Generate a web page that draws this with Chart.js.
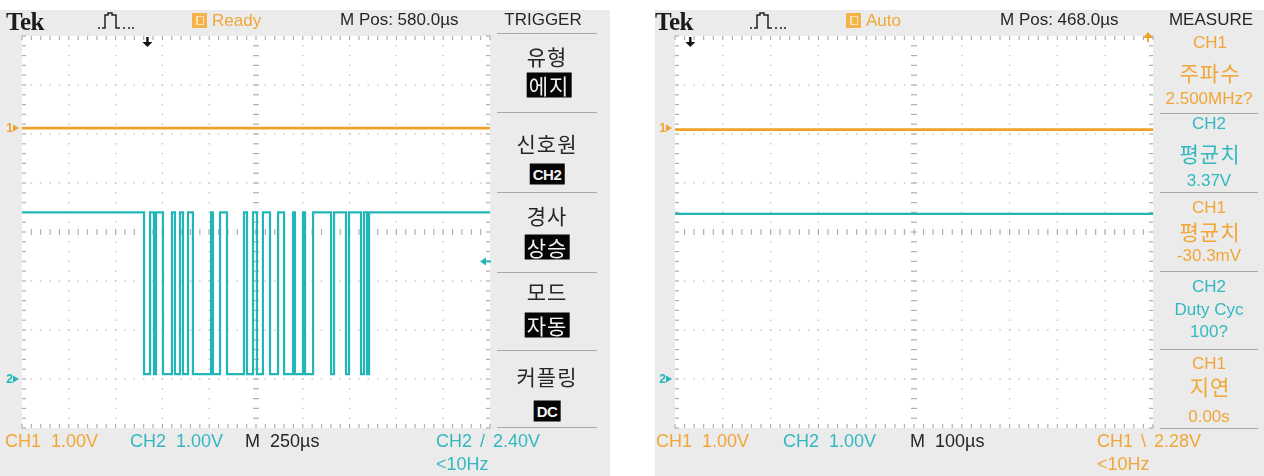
<!DOCTYPE html>
<html lang="ko">
<head>
<meta charset="utf-8">
<title>Tek 오실로스코프 캡처</title>
<script src="https://cdn.jsdelivr.net/npm/chart.js@4.4.1/dist/chart.umd.min.js"></script>
<style>
  html, body { margin: 0; padding: 0; }
  body { width: 1264px; height: 476px; position: relative; overflow: hidden; background: #fff;
         font-family: "Liberation Sans", Arial, sans-serif; }
  .panel { position: absolute; top: 10px; height: 466px; background: #ebebeb; }
  canvas { position: absolute; top: 10px; }
  .t { position: absolute; white-space: nowrap; line-height: 1; transform: translateY(-50%); font-size: 17px; }
  .c { transform: translate(-50%, -50%); }
  .kr { font-family: "Noto Sans CJK KR", sans-serif; font-size: 21px; letter-spacing: 1px; }
  .o { color: #f1a636; }
  .cy { color: #33b8c0; }
  .k { color: #262626; }
  .ft { font-size: 18px; word-spacing: 5px; }
  .tek { font-family: "Liberation Serif", serif; font-weight: bold; font-size: 25px; color: #1b1b1b; letter-spacing: -0.5px; }
  .box { background: #050505; color: #f2f2f2; padding: 2px 2px; }
  .boxs { background: #050505; color: #f2f2f2; padding: 3px 3px; font-size: 15px; font-weight: bold; letter-spacing: -0.5px; }
  .sep { position: absolute; height: 1px; background: #a9a9a9; }
  .acq { position: absolute; width: 15px; height: 15px; background: #f3b24a; }
  .acq::after { content: ""; position: absolute; left: 4px; top: 3px; width: 5px; height: 7px;
                border: 1px solid #fde2ae; border-left-width: 2px; }
</style>
</head>
<body>

<!-- instrument bezels -->
<div class="panel" style="left:0;width:610px"></div>
<div class="panel" style="left:655px;width:609px"></div>

<canvas id="scopeL" width="610" height="466" style="left:0"></canvas>
<canvas id="scopeR" width="609" height="466" style="left:655px"></canvas>

<!-- ===== left scope: status line ===== -->
<div class="t tek" style="left:6px;top:21px">Tek</div>
<svg style="position:absolute;left:97px;top:12px" width="38" height="18" viewBox="0 0 38 18">
  <path d="M1 16 H3 M5 16 H8 V3 H11 V1 H15 V3 H19 V16 H23 M26 16 H28 M31 16 H33 M35 16 H37" fill="none" stroke="#222" stroke-width="1.5"/>
</svg>
<div class="acq" style="left:192px;top:13px"></div>
<div class="t o" style="left:212px;top:20px">Ready</div>
<div class="t k" style="left:340px;top:19px">M Pos: 580.0µs</div>
<div class="t k c" style="left:543px;top:19px">TRIGGER</div>

<!-- left scope: trigger menu -->
<div class="sep" style="left:497px;top:33px;width:100px"></div>
<div class="t k c kr" style="left:547px;top:56px">유형</div>
<div class="t c kr box" style="left:549px;top:85px">에지</div>
<div class="sep" style="left:497px;top:112px;width:100px"></div>
<div class="t k c kr" style="left:547px;top:143px">신호원</div>
<div class="t c boxs" style="left:547px;top:174px">CH2</div>
<div class="sep" style="left:497px;top:192px;width:100px"></div>
<div class="t k c kr" style="left:547px;top:215px">경사</div>
<div class="t c kr box" style="left:547px;top:247px">상승</div>
<div class="sep" style="left:497px;top:272px;width:100px"></div>
<div class="t k c kr" style="left:547px;top:291px">모드</div>
<div class="t c kr box" style="left:547px;top:325px">자동</div>
<div class="sep" style="left:497px;top:350px;width:100px"></div>
<div class="t k c kr" style="left:547px;top:376px">커플링</div>
<div class="t c boxs" style="left:547px;top:411px">DC</div>
<div class="sep" style="left:497px;top:427px;width:100px"></div>

<!-- left scope: channel / timebase readout -->
<div class="t o ft" style="left:5px;top:441px">CH1 1.00V</div>
<div class="t cy ft" style="left:130px;top:441px">CH2 1.00V</div>
<div class="t k ft" style="left:245px;top:441px">M 250µs</div>
<div class="t cy ft" style="left:436px;top:441px;word-spacing:3px">CH2 / 2.40V</div>
<div class="t cy ft" style="left:436px;top:464px">&lt;10Hz</div>

<!-- ===== right scope: status line ===== -->
<div class="t tek" style="left:655px;top:21px">Tek</div>
<svg style="position:absolute;left:749px;top:12px" width="38" height="18" viewBox="0 0 38 18">
  <path d="M1 16 H3 M5 16 H8 V3 H11 V1 H15 V3 H19 V16 H23 M26 16 H28 M31 16 H33 M35 16 H37" fill="none" stroke="#222" stroke-width="1.5"/>
</svg>
<div class="acq" style="left:846px;top:13px"></div>
<div class="t o" style="left:866px;top:20px">Auto</div>
<div class="t k" style="left:1000px;top:19px">M Pos: 468.0µs</div>
<div class="t k c" style="left:1211px;top:19px">MEASURE</div>

<!-- right scope: measurement menu -->
<div class="t o c" style="left:1210px;top:42px">CH1</div>
<div class="t o c kr" style="left:1210px;top:72px">주파수</div>
<div class="t o c" style="left:1209px;top:98px">2.500MHz?</div>
<div class="sep" style="left:1160px;top:113px;width:98px"></div>
<div class="t cy c" style="left:1209px;top:123px">CH2</div>
<div class="t cy c kr" style="left:1210px;top:153px">평균치</div>
<div class="t cy c" style="left:1209px;top:180px">3.37V</div>
<div class="sep" style="left:1160px;top:192px;width:98px"></div>
<div class="t o c" style="left:1209px;top:207px">CH1</div>
<div class="t o c kr" style="left:1210px;top:231px">평균치</div>
<div class="t o c" style="left:1209px;top:255px">-30.3mV</div>
<div class="sep" style="left:1160px;top:271px;width:98px"></div>
<div class="t cy c" style="left:1209px;top:286px">CH2</div>
<div class="t cy c" style="left:1209px;top:309px">Duty Cyc</div>
<div class="t cy c" style="left:1209px;top:331px">100?</div>
<div class="sep" style="left:1160px;top:349px;width:98px"></div>
<div class="t o c" style="left:1209px;top:363px">CH1</div>
<div class="t o c kr" style="left:1210px;top:386px">지연</div>
<div class="t o c" style="left:1209px;top:416px">0.00s</div>
<div class="sep" style="left:1160px;top:428px;width:98px"></div>

<!-- right scope: channel / timebase readout -->
<div class="t o ft" style="left:656px;top:441px">CH1 1.00V</div>
<div class="t cy ft" style="left:783px;top:441px">CH2 1.00V</div>
<div class="t k ft" style="left:910px;top:441px">M 100µs</div>
<div class="t o ft" style="left:1097px;top:441px;word-spacing:3px">CH1 \ 2.28V</div>
<div class="t o ft" style="left:1097px;top:464px">&lt;10Hz</div>

<script>
// ---------- left capture: CH2 data burst, 250 µs/div ----------
const leftTime = [0, 2500];          // µs across the ten divisions
const leftCh1 = [0.0, 0.0];          // V, CH1 idle level
const leftCh2High = 3.4;             // V
const leftCh2Low = 0.1;              // V
// CH2 burst: alternating falling / rising edge times (µs)
const leftCh2Edges = [652, 684, 705, 716, 753, 801, 817, 844, 860, 887, 913, 1010,
                      1020, 1058, 1095, 1186, 1202, 1234, 1255, 1287, 1325, 1368, 1400, 1448,
                      1458, 1501, 1512, 1555, 1651, 1667, 1731, 1747, 1811, 1827, 1843, 1854];
const leftMPos = 580;                // µs, horizontal position
const leftTrigLevel = 2.40;          // V, CH2 rising edge

// ---------- right capture: 100 µs/div, measured levels ----------
const rightTime = [0, 1000];         // µs
const rightCh1Mean = -0.0303;        // V (평균치)
const rightCh2Mean = 3.37;           // V (평균치)
const rightMPos = 468;               // µs
const rightTrigLevel = 2.28;         // V, CH1 falling edge

// ---------- channel setup ----------
const voltsPerDiv = [1.0, 1.0];      // CH1, CH2
const groundDiv = [2.12, -3.0];      // ground reference, divisions above centre
const CH1_COLOR = '#f0a12a';
const CH2_COLOR = '#22b6b8';

function flatTrace(times, levels) {
  return times.map((t, i) => ({ x: t, y: levels[i] }));
}

function burstTrace(span, high, low, edges) {
  const pts = [{ x: span[0], y: high }];
  edges.forEach((t, i) => pts.push({ x: t, y: i % 2 === 0 ? low : high }));
  pts.push({ x: span[1], y: high });
  return pts;
}

function channelAxis(ch) {
  const v = voltsPerDiv[ch];
  return { type: 'linear', display: false, min: (-4 - groundDiv[ch]) * v, max: (4 - groundDiv[ch]) * v };
}

// white screen + dotted graticule with centre-line and border tick marks
const graticule = {
  id: 'graticule',
  beforeDatasetsDraw(chart) {
    const { ctx, chartArea: a, scales } = chart;
    const xs = scales.x, ys = scales.ch2;
    const colX = i => xs.getPixelForValue(xs.min + i * (xs.max - xs.min) / 10);
    const rowY = j => ys.getPixelForValue(ys.max - j * (ys.max - ys.min) / 8);
    ctx.save();
    ctx.fillStyle = '#ffffff';
    ctx.fillRect(a.left, a.top, a.right - a.left, a.bottom - a.top);
    const subX = (a.right - a.left) / 50, subY = (a.bottom - a.top) / 40;
    ctx.fillStyle = '#c2c2c2';
    for (let i = 1; i < 10; i++) {
      if (i === 5) continue;
      const x = colX(i);
      for (let k = 1; k < 40; k++) ctx.fillRect(x - 0.7, a.top + k * subY - 0.7, 1.4, 1.4);
    }
    for (let j = 1; j < 8; j++) {
      if (j === 4) continue;
      const y = rowY(j);
      for (let k = 1; k < 50; k++) ctx.fillRect(a.left + k * subX - 0.7, y - 0.7, 1.4, 1.4);
    }
    ctx.fillStyle = '#b0b0b0';
    const cx = colX(5), cy = rowY(4);
    for (let k = 1; k < 40; k++) ctx.fillRect(cx - 3, a.top + k * subY - 0.6, 6, 1.2);
    for (let k = 1; k < 50; k++) ctx.fillRect(a.left + k * subX - 0.6, cy - 3, 1.2, 6);
    for (let k = 0; k <= 50; k++) {
      const x = a.left + k * subX;
      ctx.fillRect(x - 0.6, a.top, 1.2, 4);
      ctx.fillRect(x - 0.6, a.bottom - 4, 1.2, 4);
    }
    for (let k = 0; k <= 40; k++) {
      const y = a.top + k * subY;
      ctx.fillRect(a.left, y - 0.6, 4, 1.2);
      ctx.fillRect(a.right - 4, y - 0.6, 4, 1.2);
    }
    ctx.restore();
  }
};

// ground markers, trigger position and trigger level indicators
const scopeMarks = {
  id: 'scopeMarks',
  afterDatasetsDraw(chart, args, o) {
    const { ctx, chartArea: a, scales } = chart;
    ctx.save();
    [['1', scales.ch1, CH1_COLOR], ['2', scales.ch2, CH2_COLOR]].forEach(([n, sc, col]) => {
      const y = Math.round(sc.getPixelForValue(0));
      ctx.fillStyle = col;
      ctx.font = 'bold 12px "Liberation Sans", Arial, sans-serif';
      ctx.textAlign = 'right';
      ctx.textBaseline = 'middle';
      ctx.fillText(n, a.left - 9, y + 1);
      ctx.beginPath();
      ctx.moveTo(a.left - 9, y - 3.5); ctx.lineTo(a.left - 3, y); ctx.lineTo(a.left - 9, y + 3.5);
      ctx.closePath(); ctx.fill();
    });
    // trigger point on the time axis
    const tx = scales.x.getPixelForValue(o.trigTime);
    ctx.fillStyle = '#111';
    ctx.fillRect(tx - 1.2, a.top + 1, 2.4, 6);
    ctx.beginPath();
    ctx.moveTo(tx - 5, a.top + 6); ctx.lineTo(tx + 5, a.top + 6); ctx.lineTo(tx, a.top + 11);
    ctx.closePath(); ctx.fill();
    // trigger level
    const sc = scales[o.trigAxis];
    ctx.fillStyle = o.trigColor;
    if (o.trigLevel <= sc.max) {
      const y = sc.getPixelForValue(o.trigLevel);
      ctx.beginPath();
      ctx.moveTo(a.right - 10, y); ctx.lineTo(a.right - 4, y - 4); ctx.lineTo(a.right - 4, y + 4);
      ctx.closePath(); ctx.fill();
      ctx.fillRect(a.right - 5, y - 1, 6, 2);
    } else {
      const x = a.right - 5;
      ctx.beginPath();
      ctx.moveTo(x - 5, a.top + 2); ctx.lineTo(x + 5, a.top + 2); ctx.lineTo(x, a.top - 4);
      ctx.closePath(); ctx.fill();
      ctx.fillRect(x - 1, a.top + 1, 2, 5);
    }
    ctx.restore();
  }
};

function makeScope(id, span, ch1Data, ch2Data, ch2Stepped, pad, marks) {
  return new Chart(document.getElementById(id), {
    type: 'line',
    data: {
      datasets: [
        { label: 'CH1', data: ch1Data, yAxisID: 'ch1', borderColor: CH1_COLOR, borderWidth: 2.6,
          pointRadius: 0, tension: 0 },
        { label: 'CH2', data: ch2Data, yAxisID: 'ch2', borderColor: CH2_COLOR, borderWidth: 2.2,
          pointRadius: 0, tension: 0, stepped: ch2Stepped }
      ]
    },
    options: {
      responsive: false,
      animation: false,
      devicePixelRatio: 1,
      layout: { padding: pad },
      scales: {
        x: { type: 'linear', display: false, min: span[0], max: span[1] },
        ch1: channelAxis(0),
        ch2: channelAxis(1)
      },
      plugins: {
        legend: { display: false },
        tooltip: { enabled: false },
        scopeMarks: marks
      }
    },
    plugins: [graticule, scopeMarks]
  });
}

const leftCentre = (leftTime[0] + leftTime[1]) / 2;
const rightCentre = (rightTime[0] + rightTime[1]) / 2;

makeScope('scopeL', leftTime,
  flatTrace(leftTime, leftCh1),
  burstTrace(leftTime, leftCh2High, leftCh2Low, leftCh2Edges), true,
  { left: 22, top: 26, right: 120, bottom: 48 },
  { trigTime: leftCentre - leftMPos, trigLevel: leftTrigLevel, trigAxis: 'ch2', trigColor: CH2_COLOR });

makeScope('scopeR', rightTime,
  flatTrace(rightTime, [rightCh1Mean, rightCh1Mean]),
  flatTrace(rightTime, [rightCh2Mean, rightCh2Mean]), false,
  { left: 20, top: 26, right: 111, bottom: 48 },
  { trigTime: rightCentre - rightMPos, trigLevel: rightTrigLevel, trigAxis: 'ch1', trigColor: CH1_COLOR });
</script>
</body>
</html>
